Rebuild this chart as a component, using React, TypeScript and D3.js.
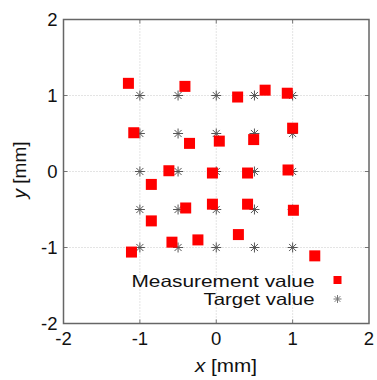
import React from 'react';
import * as d3 from 'd3';

// measured positions [mm]
const measX = [-1.15, -0.41, 0.28, 0.64, 0.93,
  -1.08, -0.35, 0.04, 0.49, 1.0,
  -0.62, -0.05, 0.41, 0.94, -0.85,
  -0.85, -0.4, -0.05, 0.41, 1.01,
  -1.11, -0.58, -0.24, 0.29, 1.29];
const measY = [1.16, 1.12, 0.98, 1.07, 1.03,
  0.51, 0.37, 0.4, 0.42, 0.57,
  0.01, -0.02, -0.02, 0.02, -0.17,
  -0.65, -0.48, -0.43, -0.43, -0.51,
  -1.06, -0.93, -0.9, -0.83, -1.11];
const targetVals = [-1, -0.5, 0, 0.5, 1];
const ticks = [-2, -1, 0, 1, 2];
const legendLabels = ['Measurement value', 'Target value'];

const W = 377;
const H = 380;
const m = { left: 63.5, top: 19.5, right: 8, bottom: 56.5 };

const Star = ({ x, y, r, color }: { x: number; y: number; r: number; color: string }) => {
  const d = r * Math.SQRT1_2;
  return (
    <g stroke={color} strokeWidth={1}>
      <line x1={x - r} y1={y} x2={x + r} y2={y} />
      <line x1={x} y1={y - r} x2={x} y2={y + r} />
      <line x1={x - d} y1={y - d} x2={x + d} y2={y + d} />
      <line x1={x - d} y1={y + d} x2={x + d} y2={y - d} />
    </g>
  );
};

export default function App() {
  const x = d3.scaleLinear().domain([-2, 2]).range([m.left, W - m.right]);
  const y = d3.scaleLinear().domain([-2, 2]).range([H - m.bottom, m.top]);
  const targets = d3.cross(targetVals, targetVals);
  const font = 'Liberation Sans, Arial, sans-serif';
  const sq = 11;

  return (
    <svg width={W} height={H} style={{ position: 'absolute', left: 0, top: 0, background: '#fff' }}
      fontFamily={font}>
      {/* grid */}
      {ticks.slice(1, -1).map(t => (
        <g key={'g' + t} stroke="#bbb" strokeWidth={0.8} strokeDasharray="1,2">
          <line x1={x(t)} x2={x(t)} y1={y(-2)} y2={y(2)} />
          <line x1={x(-2)} x2={x(2)} y1={y(t)} y2={y(t)} />
        </g>
      ))}
      {/* tick marks */}
      {ticks.slice(1, -1).map(t => (
        <g key={'t' + t} stroke="#777" strokeWidth={1}>
          <line x1={x(t)} x2={x(t)} y1={y(-2)} y2={y(-2) - 4} />
          <line x1={x(t)} x2={x(t)} y1={y(2)} y2={y(2) + 4} />
          <line x1={x(-2)} x2={x(-2) + 4} y1={y(t)} y2={y(t)} />
          <line x1={x(2)} x2={x(2) - 4} y1={y(t)} y2={y(t)} />
        </g>
      ))}
      {/* targets */}
      {targets.map(([a, b], i) => (
        <Star key={'s' + i} x={x(a)} y={y(b)} r={5} color="#555" />
      ))}
      {/* measurements */}
      {measX.map((v, i) => (
        <rect key={'m' + i} x={x(v) - sq / 2} y={y(measY[i]) - sq / 2} width={sq} height={sq} fill="#f00" />
      ))}
      {/* frame */}
      <rect x={x(-2)} y={y(2)} width={x(2) - x(-2)} height={y(-2) - y(2)} fill="none" stroke="#666" strokeWidth={1.5} />
      {/* tick labels */}
      {ticks.map(t => (
        <text key={'xl' + t} x={x(t)} y={y(-2) + 21} textAnchor="middle" fontSize={18.5} fill="#111">{t}</text>
      ))}
      {ticks.map(t => (
        <text key={'yl' + t} x={x(-2) - 6} y={y(t) + 6} textAnchor="end" fontSize={18.5} fill="#111">{t}</text>
      ))}
      {/* axis titles */}
      <text x={195} y={372} fontSize={19} fill="#111" textLength={62} lengthAdjust="spacingAndGlyphs">
        <tspan fontStyle="italic">x</tspan> [mm]
      </text>
      <text transform={`translate(25.5,170) rotate(-90)`} textAnchor="middle" fontSize={19} fill="#111">
        <tspan fontStyle="italic">y</tspan> [mm]
      </text>
      {/* legend */}
      <text x={131.5} y={286.5} fontSize={16.5} fill="#111" textLength={183} lengthAdjust="spacingAndGlyphs">{legendLabels[0]}</text>
      <text x={203.5} y={305} fontSize={16.5} fill="#111" textLength={111} lengthAdjust="spacingAndGlyphs">{legendLabels[1]}</text>
      <rect x={333.5} y={276} width={8} height={8} fill="#f00" />
      <Star x={337.5} y={299} r={4} color="#777" />
    </svg>
  );
}
